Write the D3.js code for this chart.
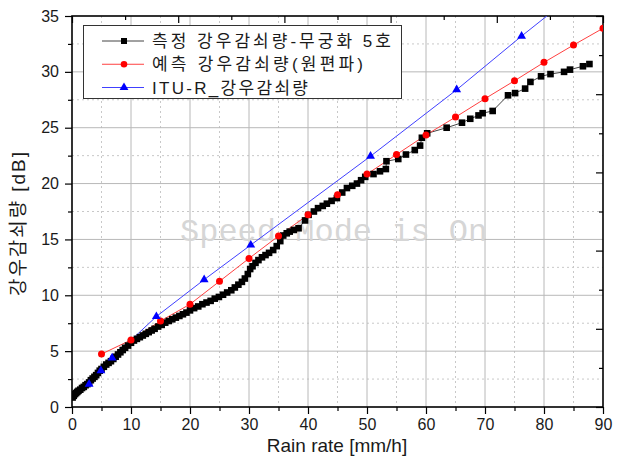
<html>
<head>
  <style>
  body {
    margin: 0;
    background: #fff;
  }
  svg text {
    font-family: "Liberation Sans", Arial, "Noto Sans CJK KR", sans-serif;
    fill: #1a1a1a;
  }
  .kr {
    font-family: "Liberation Sans", "Noto Sans CJK KR", sans-serif;
  }
  .axis .domain {
    display: none;
  }
  .axis line {
    stroke: #000;
    stroke-width: 1.2px;
  }
  .axis text {
    font-size: 16px;
  }
  </style>
</head>
<body>
<div id="chart"></div>
<script src="https://d3js.org/d3.v7.min.js"></script>
<script>

// measured rain attenuation (black squares)
var measuredX = [0.1,0.3,0.5,0.7,0.9,1.1,1.4,1.7,2.0,2.3,2.6,2.9,3.2,3.5,3.8,4.1,4.4,4.7,5.0,5.4,
  5.8,6.2,6.6,7.0,7.4,7.8,8.2,8.6,9.0,9.5,10.0,10.5,11.0,11.5,12.0,12.5,13.0,13.5,14.0,14.6,
  15.2,15.8,16.4,17.0,17.6,18.2,18.8,19.4,20.0,20.7,21.4,22.1,22.8,23.5,24.2,24.9,25.6,26.3,27.0,27.6,
  28.2,28.8,29.3,29.8,30.2,30.6,31.1,31.6,32.2,32.8,33.4,34.1,34.7,35.3,35.8,36.4,36.9,37.6,38.4,
  39.5,40.1,41.0,41.7,42.5,43.2,44.0,44.9,45.8,46.6,47.5,48.3,49.0,49.7,51.1,52.2,53.2,53.3,55.3,
  56.6,58.1,59.0,59.3,60.2,63.5,66.1,67.5,68.9,69.6,71.3,73.9,75.1,76.8,77.7,79.5,81.1,83.4,84.4,86.6,87.7];
var measuredY = [0.85,1.0,1.15,1.25,1.35,1.45,1.55,1.7,1.8,1.95,2.05,2.2,2.4,2.55,2.7,2.85,3.05,3.25,3.4,3.6,
  3.8,3.95,4.1,4.3,4.5,4.7,4.9,5.1,5.3,5.5,5.75,5.95,6.1,6.25,6.4,6.55,6.7,6.85,7.0,7.2,
  7.35,7.55,7.7,7.85,8.0,8.15,8.3,8.45,8.65,8.85,9.0,9.2,9.35,9.5,9.7,9.85,10.05,10.25,10.45,10.7,
  10.95,11.2,11.5,11.9,12.35,12.6,12.9,13.15,13.4,13.6,13.8,14.05,14.4,14.85,15.35,15.55,15.7,15.85,16.0,
  16.7,17.2,17.5,17.8,18.0,18.2,18.45,18.7,19.2,19.6,19.8,20.0,20.3,20.6,20.85,21.1,21.3,22.0,22.2,
  22.6,23.0,23.4,24.1,24.5,25.0,25.45,25.8,26.1,26.3,26.5,27.9,28.1,28.5,29.1,29.6,29.8,30.0,30.2,30.5,30.7];

// predicted rain attenuation, circular polarisation (red circles)
var predictedX = [5,10,15,20,25,30,35,40,45,50,55,60,65,70,75,80,85,90];
var predictedY = [4.74,6.0,7.7,9.2,11.25,13.3,15.3,17.2,19.0,20.85,22.6,24.35,25.95,27.6,29.2,30.85,32.4,33.9];

// ITU-R rain attenuation (blue triangles)
var ituX = [2.9,4.9,6.8,14.3,22.4,30.3,50.6,65.2,76.2,90];
var ituY = [2.05,3.25,4.4,8.1,11.4,14.5,22.45,28.4,33.2,39.0];

var seriesNames = ["측정 강우감쇠량-무궁화 5호", "예측 강우감쇠량(원편파)", "ITU-R_강우감쇠량"];
var xTicks = [0,10,20,30,40,50,60,70,80,90];
var yTicks = [0,5,10,15,20,25,30,35];

var W = 619, H = 458;
var pL = 72, pR = 603, pT = 16, pB = 407;

var svg = d3.select("#chart").append("svg")
  .attr("width", W)
  .attr("height", H);

var x = d3.scaleLinear().domain([0, 90]).range([pL, pR]);
var y = d3.scaleLinear().domain([0, 35]).range([pB, pT]);

// secondary (unlabelled) axes along top and right
var xTop = d3.scaleLinear().domain([0, 100]).range([pL, pR]);
var yRight = d3.scaleLinear().domain([0, 10]).range([pB, pT]);

svg.append("clipPath").attr("id", "plot")
  .append("rect")
    .attr("x", pL).attr("y", pT)
    .attr("width", pR - pL).attr("height", pB - pT);

// grid
var grid = svg.append("g");
var xMinor = d3.range(5, 90, 10), yMinor = d3.range(2.5, 35, 5);
grid.selectAll(".vminor").data(xMinor).enter().append("line")
  .attr("x1", d => x(d)).attr("x2", d => x(d)).attr("y1", pT).attr("y2", pB)
  .attr("stroke", "#c8c8c8").attr("stroke-dasharray", "2,3");
grid.selectAll(".hminor").data(yMinor).enter().append("line")
  .attr("y1", d => y(d)).attr("y2", d => y(d)).attr("x1", pL).attr("x2", pR)
  .attr("stroke", "#c8c8c8").attr("stroke-dasharray", "2,3");
grid.selectAll(".vmajor").data(xTicks.slice(1, -1)).enter().append("line")
  .attr("x1", d => x(d)).attr("x2", d => x(d)).attr("y1", pT).attr("y2", pB)
  .attr("stroke", "#b8b8b8");
grid.selectAll(".hmajor").data(yTicks.slice(1, -1)).enter().append("line")
  .attr("y1", d => y(d)).attr("y2", d => y(d)).attr("x1", pL).attr("x2", pR)
  .attr("stroke", "#b8b8b8");

// watermark
svg.append("text")
  .attr("x", 180).attr("y", 241)
  .style("font-family", "'Liberation Mono', 'DejaVu Sans Mono', monospace")
  .style("font-size", "32px")
  .style("fill", "#d6d6d6")
  .text("Speed Mode is On");

// axes
svg.append("g").attr("class", "axis")
  .attr("transform", "translate(0," + pB + ")")
  .call(d3.axisBottom(x).tickValues(xTicks).tickSize(7).tickPadding(5).tickFormat(d3.format("d")));
svg.append("g").attr("class", "axis")
  .attr("transform", "translate(0," + pB + ")")
  .call(d3.axisBottom(x).tickValues(xMinor).tickSize(4).tickFormat(""));
svg.append("g").attr("class", "axis")
  .attr("transform", "translate(" + pL + ",0)")
  .call(d3.axisLeft(y).tickValues(yTicks).tickSize(7).tickPadding(6).tickFormat(d3.format("d")));
svg.append("g").attr("class", "axis")
  .attr("transform", "translate(" + pL + ",0)")
  .call(d3.axisLeft(y).tickValues(yMinor).tickSize(4).tickFormat(""));

svg.append("g").attr("class", "axis")
  .attr("transform", "translate(0," + pT + ")")
  .call(d3.axisTop(xTop).tickValues(d3.range(0, 101, 20)).tickSize(-7).tickFormat(""));
svg.append("g").attr("class", "axis")
  .attr("transform", "translate(0," + pT + ")")
  .call(d3.axisTop(xTop).tickValues(d3.range(10, 100, 20)).tickSize(-4).tickFormat(""));
svg.append("g").attr("class", "axis")
  .attr("transform", "translate(" + pR + ",0)")
  .call(d3.axisRight(yRight).tickValues(d3.range(0, 11, 2)).tickSize(-7).tickFormat(""));
svg.append("g").attr("class", "axis")
  .attr("transform", "translate(" + pR + ",0)")
  .call(d3.axisRight(yRight).tickValues(d3.range(1, 10, 2)).tickSize(-4).tickFormat(""));

svg.append("rect")
  .attr("x", pL).attr("y", pT)
  .attr("width", pR - pL).attr("height", pB - pT)
  .attr("fill", "none").attr("stroke", "#000").attr("stroke-width", 1.6);

// axis titles
svg.append("text")
  .attr("x", 337).attr("y", 452)
  .attr("text-anchor", "middle")
  .style("font-size", "19px")
  .text("Rain rate [mm/h]");
svg.append("text")
  .attr("class", "kr")
  .attr("transform", "translate(25,224) rotate(-90)")
  .attr("text-anchor", "middle")
  .attr("textLength", 144)
  .attr("lengthAdjust", "spacing")
  .style("font-size", "19px")
  .text("강우감쇠량 [dB]");

// series
var plot = svg.append("g").attr("clip-path", "url(#plot)");
var line = d3.line().x(d => x(d[0])).y(d => y(d[1]));

var measured = d3.zip(measuredX, measuredY);
var predicted = d3.zip(predictedX, predictedY);
var itu = d3.zip(ituX, ituY);

plot.append("path").datum(measured).attr("d", line)
  .attr("fill", "none").attr("stroke", "#444").attr("stroke-width", 1);
plot.append("path").datum(predicted).attr("d", line)
  .attr("fill", "none").attr("stroke", "#ff4040").attr("stroke-width", 1);
plot.append("path").datum(itu).attr("d", line)
  .attr("fill", "none").attr("stroke", "#4040ff").attr("stroke-width", 1);

plot.selectAll(".sq").data(measured).enter().append("rect")
  .attr("x", d => x(d[0]) - 3.3).attr("y", d => y(d[1]) - 3.3)
  .attr("width", 6.6).attr("height", 6.6)
  .attr("fill", "#000");
plot.selectAll(".dot").data(predicted).enter().append("circle")
  .attr("cx", d => x(d[0])).attr("cy", d => y(d[1])).attr("r", 3.5)
  .attr("fill", "#ff0000");
var tri = d3.symbol().type(d3.symbolTriangle).size(34);
plot.selectAll(".tri").data(itu).enter().append("path")
  .attr("d", tri)
  .attr("transform", d => "translate(" + x(d[0]) + "," + y(d[1]) + ")")
  .attr("fill", "#0000ff");

// legend
var lg = svg.append("g");
lg.append("rect")
  .attr("x", 83.5).attr("y", 25.5).attr("width", 318).attr("height", 73)
  .attr("fill", "#fff").attr("stroke", "#333").attr("stroke-width", 1);

var legendRows = [
  {name: seriesNames[0], line: "#444", fill: "#000", mark: "square", len: 239},
  {name: seriesNames[1], line: "#ff4040", fill: "#ff0000", mark: "circle", len: 211},
  {name: seriesNames[2], line: "#4040ff", fill: "#0000ff", mark: "triangle", len: 156}
];
var rowY = d3.scalePoint().domain(d3.range(3)).range([41, 87.5]);

legendRows.forEach(function(r, i) {
  var cy = rowY(i);
  lg.append("line")
    .attr("x1", 102).attr("x2", 144).attr("y1", cy).attr("y2", cy)
    .attr("stroke", r.line).attr("stroke-width", 1);
  if (r.mark === "square") {
    lg.append("rect").attr("x", 121).attr("y", cy - 3).attr("width", 6).attr("height", 6).attr("fill", r.fill);
  } else if (r.mark === "circle") {
    lg.append("circle").attr("cx", 124).attr("cy", cy).attr("r", 3.3).attr("fill", r.fill);
  } else {
    lg.append("path").attr("d", tri).attr("transform", "translate(124," + cy + ")").attr("fill", r.fill);
  }
  lg.append("text")
    .attr("class", "kr")
    .attr("x", 152).attr("y", cy + 6)
    .attr("textLength", r.len)
    .attr("lengthAdjust", "spacing")
    .style("font-size", "17px")
    .text(r.name);
});

</script>
</body>
</html>
